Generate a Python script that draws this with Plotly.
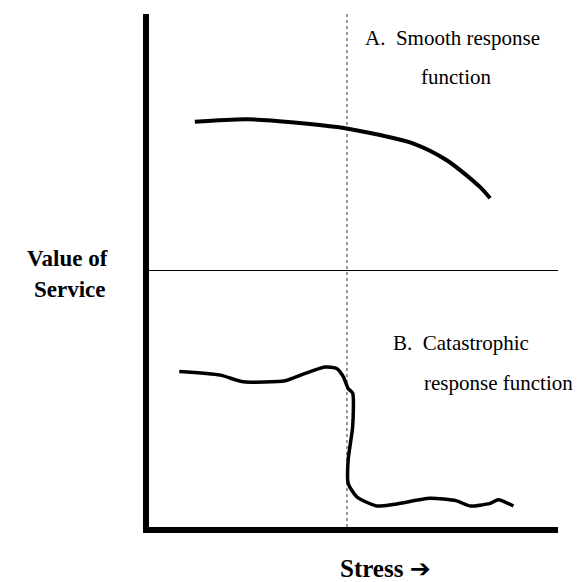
import plotly.graph_objects as go

# Stress (x) and value of service (y), both on a 0-100 scale
smooth_stress = [11.2, 23.9, 36.1, 48.3, 56.5, 64.5, 72.8, 80.9, 83.4]
smooth_value = [79.0, 79.5, 78.8, 77.7, 76.4, 74.8, 71.5, 66.3, 64.1]

cat_stress = [7.4, 17.4, 23.1, 33.3, 37.7, 43.0, 45.9, 47.5, 48.7, 49.8, 49.8, 48.7,
              48.7, 50.8, 55.6, 60.5, 68.7, 75.2, 78.5, 83.4, 85.4, 89.1]
cat_value = [30.3, 29.6, 28.3, 28.5, 29.8, 31.2, 30.9, 29.3, 27.0, 26.1, 19.6, 13.1,
             8.5, 5.9, 4.1, 4.5, 5.6, 5.1, 4.1, 4.6, 5.3, 4.1]

threshold_stress = 48.4
divider_value = 50
x_range = [0, 100]
y_range = [0, 100]

fig = go.Figure()

fig.add_trace(go.Scatter(x=[threshold_stress, threshold_stress], y=y_range, mode="lines",
                         line=dict(color="#333333", width=1, dash="dot"), hoverinfo="skip"))
fig.add_trace(go.Scatter(x=x_range, y=[divider_value, divider_value], mode="lines",
                         line=dict(color="black", width=1.2), hoverinfo="skip"))
fig.add_trace(go.Scatter(x=smooth_stress, y=smooth_value, mode="lines",
                         line=dict(color="black", width=4, shape="spline", smoothing=0.8)))
fig.add_trace(go.Scatter(x=cat_stress, y=cat_value, mode="lines",
                         line=dict(color="black", width=3.5, shape="spline", smoothing=0.6)))

serif = "Liberation Serif, Times New Roman, serif"
arrow = '<span style="font-family:DejaVu Sans">\u2794</span>'
ann = [
    dict(x=0.742, y=0.953, text="A.\u00a0\u00a0Smooth response", size=21),
    dict(x=0.751, y=0.877, text="function", size=21),
    dict(x=0.764, y=0.359, text="B.\u00a0\u00a0Catastrophic", size=21),
    dict(x=0.855, y=0.281, text="response function", size=21),
    dict(x=-0.199, y=0.524, text="<b>Value of</b>", size=23),
    dict(x=-0.194, y=0.462, text="<b>Service</b>", size=23),
    dict(x=0.578, y=-0.080, text="<b>Stress " + arrow + "</b>", size=25),
]
for a in ann:
    fig.add_annotation(x=a["x"], y=a["y"], xref="paper", yref="paper", text=a["text"],
                       showarrow=False, xanchor="center", yanchor="middle", borderpad=0,
                       font=dict(family=serif, size=a["size"], color="black"))

fig.update_layout(
    width=577, height=582,
    margin=dict(l=149, r=19, t=14, b=55),
    paper_bgcolor="white", plot_bgcolor="white",
    showlegend=False,
    xaxis=dict(range=x_range, showgrid=False, zeroline=False, showticklabels=False,
               ticks="", showline=True, linecolor="black", linewidth=6),
    yaxis=dict(range=y_range, showgrid=False, zeroline=False, showticklabels=False,
               ticks="", showline=True, linecolor="black", linewidth=6),
)

fig.write_html(
    "out.html",
    config={"displayModeBar": False},
    post_script="document.body.style.margin='0';document.body.style.overflow='hidden';",
)
